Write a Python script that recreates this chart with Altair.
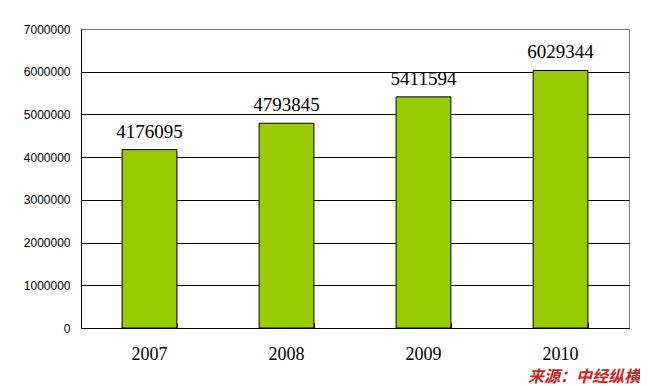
import altair as alt
import pandas as pd

years = ["2007", "2008", "2009", "2010"]
values = [4176095, 4793845, 5411594, 6029344]
y_ticks = [0, 1000000, 2000000, 3000000, 4000000, 5000000, 6000000, 7000000]
source_text = "来源：中经纵横"

df = pd.DataFrame({"year": years, "value": values})

x_axis = alt.Axis(
    orient="bottom",
    labelAngle=0, labelFont="Liberation Serif", labelFontSize=18,
    labelColor="black", labelPadding=17, ticks=False,
    domainColor="black", domainWidth=1, grid=False,
)
# inner tick marks at category boundaries (pointing up into the plot)
x_tick_axis = alt.Axis(
    orient="bottom", offset=-5, labels=False, domain=False, grid=False,
    ticks=True, tickBand="extent", tickSize=5, tickColor="black", tickWidth=1,
)
y_axis = alt.Axis(
    values=y_ticks, format="d", labelFont="Liberation Sans", labelFontSize=12,
    labelColor="black", labelPadding=11, ticks=False,
    domainColor="black", domainWidth=1, grid=True,
    gridColor=alt.condition("datum.value >= 7000000", alt.value("#808080"), alt.value("black")),
    gridOpacity=1, gridWidth=1,
)

x_scale = alt.Scale(paddingInner=0.6, paddingOuter=0.3)
y_enc = alt.Y("value:Q", title=None,
              scale=alt.Scale(domain=[0, 7000000], nice=False), axis=y_axis)

base = alt.Chart(df)

bars = base.mark_bar(color="#99CC00", stroke="black", strokeWidth=1).encode(
    x=alt.X("year:N", title=None, sort=years, scale=x_scale, axis=x_axis),
    y=y_enc,
)

labels = base.mark_text(
    baseline="bottom", dy=-8, font="Liberation Serif", fontSize=19, color="black"
).encode(
    x=alt.X("year:N", title=None, sort=years, scale=x_scale, axis=x_tick_axis),
    y=y_enc,
    text=alt.Text("value:Q", format="d"),
)

chart = alt.layer(bars, labels).resolve_axis(x="independent").properties(
    width=548, height=299,
    autosize=alt.AutoSizeParams(type="none"),
    padding={"left": 73, "top": 21, "right": 11, "bottom": 58},
    background="white",
    title=alt.TitleParams(
        source_text, orient="bottom", anchor="end", fontSize=16,
        font="Noto Sans CJK SC", fontWeight="bold", fontStyle="italic",
        color="#CC2222", dx=11, offset=6,
    ),
).configure_view(stroke="#808080", strokeWidth=1)

chart.save("out.html", embed_options={"renderer": "svg", "actions": False})
